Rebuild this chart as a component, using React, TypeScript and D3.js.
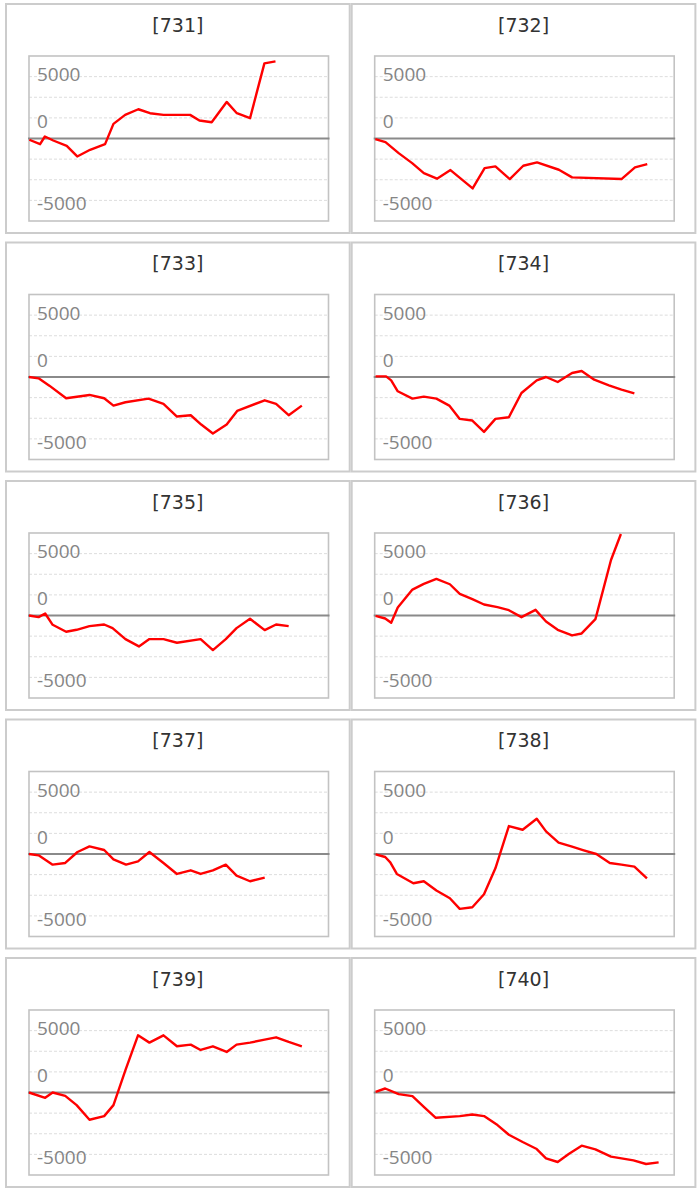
import React, { useEffect, useRef } from "react";
import * as d3 from "d3";

// small multiples: one cumulative line per id, 2 columns x 5 rows
const panelIds = ["731", "732", "733", "734", "735", "736", "737", "738", "739", "740"];

// [x (0-100 along the axis), value]
const s731: [number, number][] = [
  [0.1, -150], [3.7, -685], [5.3, 242], [8.1, -242], [12.6, -887], [16.1, -2176],
  [20.4, -1370], [25.4, -685], [28.2, 1773], [32.1, 2861], [36.5, 3546], [40.4, 3063],
  [44.9, 2861], [53.8, 2861], [56.9, 2176], [61.0, 1975], [66.0, 4433], [69.4, 3063],
  [73.8, 2458], [78.6, 9108], [82.3, 9350],
];
const s732: [number, number][] = [
  [0.2, -81], [3.6, -443], [8.0, -1773], [12.5, -2982], [16.4, -4191], [20.8, -4876],
  [25.3, -3829], [32.7, -6045], [36.7, -3587], [40.3, -3385], [45.1, -4917], [49.6, -3305],
  [54.2, -2902], [61.5, -3788], [65.9, -4715], [82.4, -4917], [86.9, -3506], [91.0, -3103],
];
const s733: [number, number][] = [
  [0, 0], [3.2, -161], [6.8, -1048], [12.4, -2579], [20.2, -2176], [25.1, -2579],
  [28.2, -3466], [32.2, -3063], [39.9, -2620], [44.9, -3264], [49.4, -4796], [54.0, -4634],
  [57.5, -5763], [61.4, -6851], [66.0, -5763], [69.5, -4111], [78.7, -2821], [82.5, -3264],
  [86.7, -4634], [91.1, -3466],
];
const s734: [number, number][] = [
  [0.3, 81], [3.8, 81], [5.5, -403], [7.7, -1733], [12.6, -2620], [16.4, -2378],
  [20.6, -2620], [24.9, -3466], [28.4, -5078], [32.6, -5279], [36.5, -6650], [40.3, -5078],
  [44.8, -4876], [49.0, -1934], [54.1, -403], [57.2, 0], [61.1, -605], [65.9, 484],
  [69.1, 725], [73.3, -322], [78.2, -1008], [82.4, -1531], [86.7, -1975],
];
const s735: [number, number][] = [
  [0, 0], [3.2, -202], [5.4, 242], [7.9, -1128], [12.4, -1975], [15.9, -1733],
  [20.2, -1290], [25.1, -1088], [27.9, -1531], [32.2, -2861], [36.7, -3748], [40.2, -2861],
  [44.9, -2861], [49.4, -3305], [57.3, -2861], [61.4, -4191], [65.7, -2861], [69.3, -1531],
  [73.8, -403], [78.7, -1773], [82.5, -1088], [86.7, -1290],
];
const s736: [number, number][] = [
  [0.3, -40], [3.5, -363], [5.5, -887], [7.7, 967], [12.6, 3143], [16.4, 3829],
  [20.6, 4433], [25.1, 3788], [28.4, 2620], [32.6, 1975], [36.5, 1330], [41.0, 1008],
  [44.8, 645], [49.0, -202], [53.7, 685], [57.2, -725], [61.1, -1733], [65.9, -2418],
  [69.1, -2176], [73.7, -443], [78.9, 6730], [82.2, 9874],
];
const s737: [number, number][] = [
  [0, 0], [3.2, -161], [7.9, -1290], [12.1, -1088], [16.2, 242], [20.2, 927],
  [25.1, 484], [28.2, -645], [32.4, -1290], [36.4, -887], [40.2, 242], [44.9, -1088],
  [49.4, -2418], [54.0, -1975], [57.3, -2418], [61.4, -1975], [65.7, -1290], [69.3, -2620],
  [73.8, -3305], [78.7, -2861],
];
const s738: [number, number][] = [
  [0.3, -40], [3.5, -363], [5.2, -1008], [7.4, -2418], [12.9, -3546], [16.4, -3305],
  [20.6, -4433], [25.1, -5360], [28.4, -6650], [32.6, -6449], [36.5, -4876], [40.3, -1733],
  [44.8, 3385], [49.4, 2942], [54.1, 4272], [57.2, 2740], [61.4, 1370], [65.9, 887],
  [69.8, 443], [74.0, 0], [78.5, -1088], [82.4, -1290], [86.7, -1531], [90.9, -2942],
];
const s739: [number, number][] = [
  [0, 0], [5.4, -645], [7.9, 0], [12.1, -403], [15.9, -1531], [20.2, -3305],
  [25.1, -2861], [28.2, -1531], [32.2, 2700], [36.4, 6932], [40.2, 6045], [44.9, 6932],
  [49.4, 5602], [54.0, 5802], [57.3, 5158], [61.4, 5602], [66.0, 4917], [69.3, 5802],
  [73.8, 6045], [78.7, 6408], [82.5, 6690], [86.7, 6126], [91.1, 5602],
];
const s740: [number, number][] = [
  [0.3, 81], [3.5, 484], [8.0, -202], [12.6, -443], [16.4, -1733], [20.4, -3063],
  [28.4, -2861], [32.6, -2660], [36.5, -2861], [41.0, -3949], [44.8, -5118], [49.4, -6005],
  [54.1, -6852], [57.2, -7981], [61.1, -8424], [64.9, -7417], [69.1, -6449], [73.7, -6892],
  [78.9, -7779], [82.4, -7981], [86.4, -8223], [90.6, -8666], [94.8, -8464],
];
const panelSeries = [s731, s732, s733, s734, s735, s736, s737, s738, s739, s740];

const gridValues = [7500, 5000, 2500, -2500, -5000, -7500];
// the labels do not sit on even steps in the original, so keep their own anchor values
const tickLabels = ["5000", "0", "-5000"];
const tickAnchors = [6950, 1250, -8700];

const App = () => {
  const svgRef = useRef<SVGSVGElement | null>(null);

  useEffect(() => {
    const width = 700;
    const height = 1193;
    const panelW = 345.7;
    const panelH = 231;
    const pitchY = 238.5;
    const originX = 5;
    const originY = 3;
    const plot = { left: 24, top: 53, w: 299.5, h: 165 };

    const svg = d3.select(svgRef.current);
    svg.selectAll("*").remove();
    svg.attr("width", width).attr("height", height);

    const x = d3.scaleLinear().domain([0, 100]).range([0, plot.w]);
    const y = d3.scaleLinear().domain([10000, -10000]).range([0, plot.h]);

    const line = d3
      .line<[number, number]>()
      .x((d) => x(d[0]))
      .y((d) => y(d[1]));

    panelIds.forEach((id, i) => {
      const ox = originX + (i % 2) * panelW;
      const oy = originY + Math.floor(i / 2) * pitchY;
      const panel = svg.append("g").attr("transform", `translate(${ox},${oy})`);

      panel
        .append("rect")
        .attr("x", 1)
        .attr("y", 1)
        .attr("width", panelW - 2)
        .attr("height", panelH - 2)
        .attr("fill", "white")
        .attr("stroke", "#cccccc")
        .attr("stroke-width", 2);

      panel
        .append("text")
        .attr("x", panelW / 2)
        .attr("y", 28.7)
        .attr("text-anchor", "middle")
        .style("font-family", "'DejaVu Sans', sans-serif")
        .style("font-size", "19px")
        .style("fill", "#333")
        .text(`[${id}]`);

      const g = panel.append("g").attr("transform", `translate(${plot.left},${plot.top})`);

      // dashed grid
      g.selectAll("line.grid")
        .data(gridValues)
        .join("line")
        .attr("class", "grid")
        .attr("x1", 0)
        .attr("x2", plot.w)
        .attr("y1", (d) => y(d))
        .attr("y2", (d) => y(d))
        .attr("stroke", "#dddddd")
        .attr("stroke-width", 1)
        .attr("stroke-dasharray", "3,2");

      g.append("rect")
        .attr("width", plot.w)
        .attr("height", plot.h)
        .attr("fill", "none")
        .attr("stroke", "#c3c3c3")
        .attr("stroke-width", 1.6);

      g.selectAll("text.tick")
        .data(tickLabels)
        .join("text")
        .attr("class", "tick")
        .attr("x", 8)
        .attr("y", (_, k) => y(tickAnchors[k]))
        .style("font-family", "'Open Sans', sans-serif")
        .style("font-size", "19px")
        .style("fill", "#858585")
        .text((d) => d);

      // baseline at 0
      g.append("line")
        .attr("x1", -1)
        .attr("x2", plot.w + 1)
        .attr("y1", y(0))
        .attr("y2", y(0))
        .attr("stroke", "#8a8a8a")
        .attr("stroke-width", 2);

      g.append("path")
        .datum(panelSeries[i])
        .attr("d", line)
        .attr("fill", "none")
        .attr("stroke", "#ff0000")
        .attr("stroke-width", 2.4)
        .attr("stroke-linejoin", "round");
    });
  }, []);

  return (
    <svg
      ref={svgRef}
      style={{ position: "absolute", left: 0, top: 0, background: "white" }}
    ></svg>
  );
};

export default App;
